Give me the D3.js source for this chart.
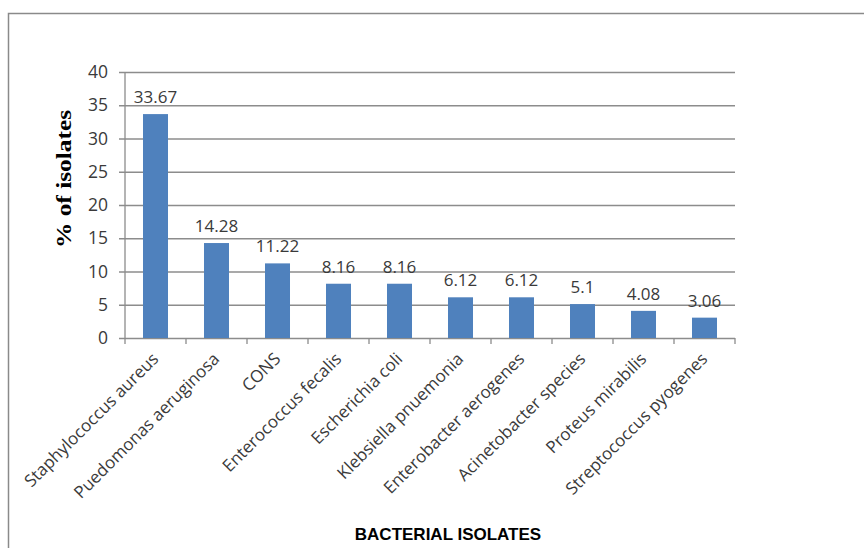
<!DOCTYPE html>
<html>
<head>
<meta charset="utf-8">
<script src="https://cdn.jsdelivr.net/npm/d3@7"></script>
<style>
  body { margin: 0; background: #fff; }
  svg { display: block; }
</style>
</head>
<body>
<div id="chart"><svg width="864" height="548"></svg></div>
<script>
const isolates = [
    "Staphylococcus aureus", "Puedomonas aeruginosa", "CONS", "Enterococcus fecalis",
    "Escherichia coli", "Klebsiella pnuemonia", "Enterobacter aerogenes",
    "Acinetobacter species", "Proteus mirabilis", "Streptococcus pyogenes"
];
const percentValues = [33.67, 14.28, 11.22, 8.16, 8.16, 6.12, 6.12, 5.1, 4.08, 3.06];
const valueLabels = ["33.67", "14.28", "11.22", "8.16", "8.16", "6.12", "6.12", "5.1", "4.08", "3.06"];
const yTicks = [0, 5, 10, 15, 20, 25, 30, 35, 40];

const svg = d3.select("#chart").select("svg");
const plotLeft = 125, plotRight = 735, plotTop = 72, plotBottom = 338;
const textColor = "#3a3a3a";
const lineColor = "#8c8c8c";

// outer frame
svg.append("rect")
    .attr("x", 8.5).attr("y", 13.5)
    .attr("width", 900).attr("height", 600)
    .attr("fill", "none")
    .attr("stroke", "#8a8a8a")
    .attr("stroke-width", 1.5);

const x = d3.scaleBand()
    .domain(isolates)
    .range([plotLeft, plotRight])
    .paddingInner(0.59)
    .paddingOuter(0.295);

const y = d3.scaleLinear()
    .domain([0, 40])
    .range([plotBottom, plotTop]);

// gridlines + y ticks
const yAxis = svg.append("g")
    .attr("transform", `translate(${plotLeft},0)`)
    .call(d3.axisLeft(y).tickValues(yTicks).tickSize(-(plotRight - plotLeft)).tickPadding(17));
yAxis.select(".domain").remove();
yAxis.selectAll(".tick line")
    .attr("x1", -6)
    .attr("stroke", lineColor)
    .attr("stroke-width", 1.3);
yAxis.selectAll(".tick text")
    .attr("font-family", "'Open Sans', sans-serif")
    .attr("font-size", "17.5px")
    .attr("fill", textColor);

// vertical axis line
svg.append("line")
    .attr("x1", plotLeft).attr("x2", plotLeft)
    .attr("y1", plotTop).attr("y2", plotBottom)
    .attr("stroke", lineColor).attr("stroke-width", 1.3);

// category boundary ticks
const boundaries = d3.range(isolates.length + 1).map(i => plotLeft + i * x.step());
svg.selectAll(".cat-tick")
    .data(boundaries)
    .join("line")
    .attr("x1", d => d).attr("x2", d => d)
    .attr("y1", plotBottom).attr("y2", plotBottom + 6)
    .attr("stroke", lineColor).attr("stroke-width", 1.3);

// bars
svg.selectAll(".bar")
    .data(percentValues)
    .join("rect")
    .attr("x", (d, i) => x(isolates[i]))
    .attr("y", d => y(d))
    .attr("width", x.bandwidth())
    .attr("height", d => plotBottom - y(d))
    .attr("fill", "#4f81bd");

// value labels
svg.selectAll(".val")
    .data(percentValues)
    .join("text")
    .attr("x", (d, i) => x(isolates[i]) + x.bandwidth() / 2)
    .attr("y", d => y(d) - 11)
    .attr("text-anchor", "middle")
    .attr("font-family", "'Open Sans', sans-serif")
    .attr("font-size", "17px")
    .attr("fill", textColor)
    .text((d, i) => valueLabels[i]);

// category labels
svg.selectAll(".cat")
    .data(isolates)
    .join("text")
    .attr("transform", d => `translate(${x(d) + x.bandwidth() / 2 + 4},${plotBottom + 22}) rotate(-45)`)
    .attr("text-anchor", "end")
    .attr("font-family", "'Open Sans', sans-serif")
    .attr("font-size", "17px")
    .attr("fill", textColor)
    .text(d => d);

// y axis title
svg.append("text")
    .attr("transform", "translate(71,179) rotate(-90)")
    .attr("text-anchor", "middle")
    .attr("font-family", "'Liberation Serif', serif")
    .attr("font-weight", "bold")
    .attr("font-size", "21px")
    .attr("fill", "#000")
    .attr("textLength", 138)
    .attr("lengthAdjust", "spacingAndGlyphs")
    .text("% of isolates");

// x axis title
svg.append("text")
    .attr("x", 448)
    .attr("y", 540)
    .attr("text-anchor", "middle")
    .attr("font-family", "'Liberation Sans Narrow', 'Arial Narrow', sans-serif")
    .attr("font-weight", "bold")
    .attr("font-size", "17px")
    .attr("fill", "#000")
    .text("BACTERIAL ISOLATES");
</script>
</body>
</html>
